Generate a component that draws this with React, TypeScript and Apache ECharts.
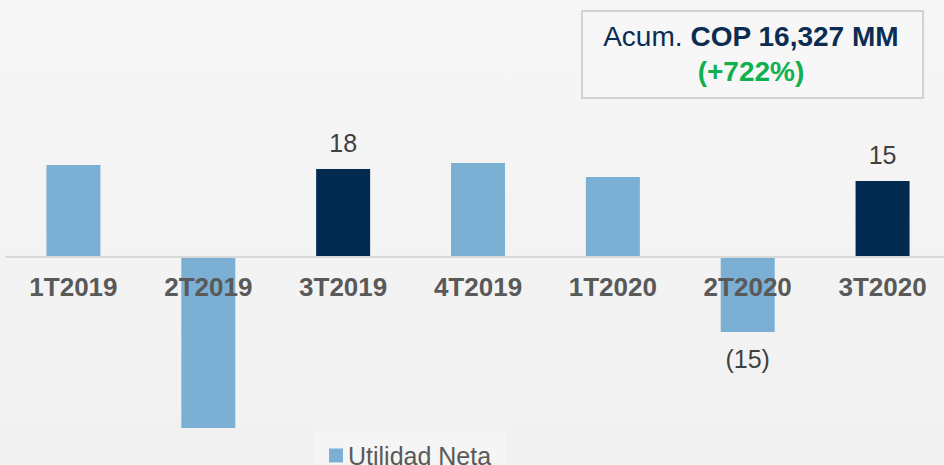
import React, { useEffect, useRef } from "react";
import * as echarts from "echarts";

const categories = ["1T2019", "2T2019", "3T2019", "4T2019", "1T2020", "2T2020", "3T2020"];
const values = [18.4, -34.2, 17.6, 18.8, 16.0, -15.0, 15.2];
const highlighted = [false, false, true, false, false, false, true];
const showValue = [false, false, true, false, false, true, true];
const seriesName = "Utilidad Neta";
const boxLine1Normal = "Acum. ";
const boxLine1Bold = "COP 16,327 MM";
const boxLine2 = "(+722%)";

const LIGHT = "#7bafd4";
const DARK = "#032a50";
const FONT = "'Liberation Sans', Arial, sans-serif";

const Y_MIN = -40;
const Y_MAX = 50;
const GRID_TOP = 7;
const GRID_H = 450;

export default function App() {
  const ref = useRef<HTMLDivElement>(null);
  useEffect(() => {
    if (!ref.current) return;
    const chart = echarts.init(ref.current, null, { renderer: "svg" });
    const data = values.map((v, i) => ({
      value: v,
      itemStyle: { color: highlighted[i] ? DARK : LIGHT },
      label: {
        show: showValue[i],
        position: v < 0 ? "bottom" : "top",
        distance: 14,
      },
    }));
    // distance from grid bottom up to the zero line
    const zeroOffset = (-Y_MIN / (Y_MAX - Y_MIN)) * GRID_H;
    chart.setOption({
      animation: false,
      backgroundColor: "transparent",
      textStyle: { fontFamily: FONT },
      grid: {
        left: 6,
        right: -6,
        top: GRID_TOP,
        height: GRID_H,
        containLabel: false,
        outerBoundsMode: "none",
      },
      legend: {
        show: true,
        data: [{ name: seriesName, itemStyle: { color: LIGHT } }],
        left: 313,
        top: 431,
        padding: [12, 16, 12, 16],
        backgroundColor: "#f5f5f5",
        itemWidth: 14,
        itemHeight: 14,
        icon: "rect",
        itemGap: 10,
        textStyle: { fontSize: 25, color: "#595959", fontFamily: FONT },
      },
      xAxis: {
        type: "category",
        data: categories,
        z: 5,
        position: "bottom",
        offset: -zeroOffset,
        axisLine: { show: true, onZero: false, lineStyle: { color: "#d9d9d9", width: 2 } },
        axisTick: { show: false },
        axisLabel: {
          show: true,
          margin: 17,
          fontSize: 26,
          fontWeight: "bold",
          color: "#595959",
          fontFamily: FONT,
        },
      },
      yAxis: {
        type: "value",
        min: Y_MIN,
        max: Y_MAX,
        show: false,
        splitLine: { show: false },
      },
      series: [
        {
          type: "bar",
          name: seriesName,
          data,
          barWidth: 54,
          itemStyle: { color: LIGHT },
          label: {
            fontSize: 25,
            color: "#404040",
            fontFamily: FONT,
            formatter: (p: any) => {
              const v = Math.round(Math.abs(p.value));
              return p.value < 0 ? `(${v})` : `${v}`;
            },
          },
        },
      ],
      graphic: [
        {
          type: "rect",
          left: 581,
          top: 10,
          shape: { width: 341, height: 87 },
          style: { fill: "#f7f7f7", stroke: "#d2d2d2", lineWidth: 2 },
          z: 10,
        },
        {
          type: "text",
          x: 751,
          y: 54,
          z: 11,
          style: {
            text: `{n|${boxLine1Normal}}{b|${boxLine1Bold}}\n{g|${boxLine2}}`,
            align: "center",
            verticalAlign: "middle",
            rich: {
              n: { fontSize: 28, fill: "#0b2d52", fontFamily: FONT, lineHeight: 35, align: "center" },
              b: { fontSize: 28, fill: "#0b2d52", fontWeight: "bold", fontFamily: FONT, lineHeight: 35, align: "center" },
              g: { fontSize: 28, fill: "#10b04f", fontWeight: "bold", fontFamily: FONT, lineHeight: 35, align: "center" },
            },
          },
        },
      ],
    });
    return () => chart.dispose();
  }, []);
  return (
    <div
      style={{
        position: "absolute",
        left: 0,
        top: 0,
        width: 944,
        height: 465,
        overflow: "hidden",
        background: "linear-gradient(#f6f6f6, #f1f1f1)",
      }}
    >
      <div ref={ref} style={{ width: 944, height: 465 }} />
    </div>
  );
}
